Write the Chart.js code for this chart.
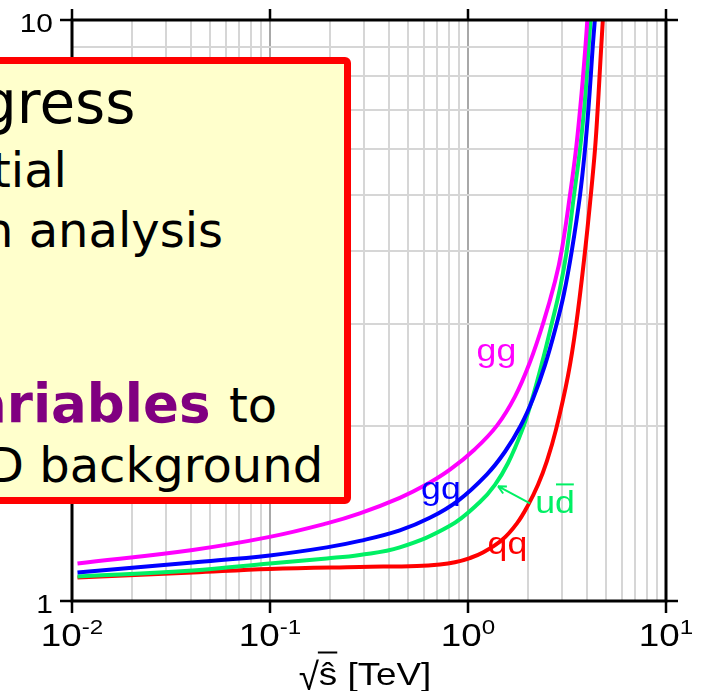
<!DOCTYPE html>
<html>
<head>
<meta charset="utf-8">
<script src="https://cdn.jsdelivr.net/npm/chart.js@4.4.0/dist/chart.umd.min.js"></script>
<style>
  html, body { margin: 0; padding: 0; background: #fff; overflow: hidden; }
  #wrap { position: relative; width: 701px; height: 691px; }
  #myChart { display: block; }
  #box {
    position: absolute; left: -20px; top: 57px; width: 371px; height: 447px;
    box-sizing: border-box; border: 7px solid #ff0000; border-radius: 6px; background: #ffffcc;
  }
  .line { position: absolute; font-family: 'DejaVu Sans'; line-height: 1; white-space: nowrap; color: #000; }
  .hl { font-weight: bold; color: #800080; }
</style>
</head>
<body>
<div id="wrap">
  <canvas id="myChart" width="701" height="691"></canvas>
  <div id="box"></div>
  <div class="line" style="left:-20px; top:74px; font-size:58px;">gress</div>
  <div class="line" style="left:-8px; top:146px; font-size:48px;">tial</div>
  <div class="line" style="left:-17px; top:206px; font-size:48px;">n analysis</div>
  <div class="line hl" style="left:-29px; top:377px; font-size:53px;">ariables</div>
  <div class="line" style="left:229px; top:381px; font-size:48px;">to</div>
  <div class="line" style="left:-13px; top:441px; font-size:48px;">D background</div>
</div>
<script>
// curve values: sqrt(s-hat) in TeV, and the ratio on the y axis
const ggX = [0.01066, 0.04066, 0.09965, 0.1935, 0.2841, 0.4525, 0.6196, 0.8100, 1.0836, 1.3998, 1.7264, 2.0557, 2.3914, 2.7502, 2.9738, 3.2750, 3.5124, 3.6797, 3.8104, 3.9183, 4.0060];
const ggY = [1.1605, 1.2244, 1.2894, 1.3603, 1.4153, 1.5053, 1.5880, 1.6824, 1.8251, 2.0037, 2.2480, 2.5774, 3.0, 3.5481, 4.0132, 5, 6, 7, 8, 9, 10];

const gqX = [0.01066, 0.04066, 0.09965, 0.1935, 0.2841, 0.4525, 0.6416, 0.8891, 1.2463, 1.5366, 1.8513, 2.1289, 2.4477, 2.8051, 3.0536, 3.3404, 3.6797, 3.8994, 4.0525, 4.1673, 4.2654, 4.3710];
const gqY = [1.1199, 1.1652, 1.1981, 1.2367, 1.2689, 1.3231, 1.3904, 1.4874, 1.6522, 1.8066, 2.0069, 2.2286, 2.5458, 3, 3.3823, 4, 5, 6, 7, 8, 9, 10];

const udX = [0.01066, 0.04066, 0.09965, 0.1935, 0.2841, 0.4525, 0.8100, 1.1486, 1.3677, 1.5909, 1.8730, 2.1043, 2.3637, 2.6470, 2.9145, 3.1509, 3.4315, 3.6797, 3.8541, 3.9773, 4.0662, 4.1615];
const udY = [1.1020, 1.1288, 1.1605, 1.1838, 1.2004, 1.2367, 1.3469, 1.4803, 1.5849, 1.7262, 1.9642, 2.2215, 2.5672, 3, 3.4514, 4, 5, 6, 7, 8, 9, 10];

const qqX = [0.01066, 0.04066, 0.09965, 0.2841, 0.5517, 0.7211, 0.8586, 1.0224, 1.1893, 1.4834, 1.7670, 2.0084, 2.2566, 2.5054, 2.7824, 3.1999, 3.5124, 3.8994, 4.1720, 4.3812, 4.5157, 4.6168, 4.7090, 4.7975];
const qqY = [1.0977, 1.1199, 1.1355, 1.1445, 1.1491, 1.1560, 1.1661, 1.1857, 1.2118, 1.2731, 1.3603, 1.4610, 1.5849, 1.7433, 1.9722, 2.4432, 2.9800, 4, 5, 6, 7, 8, 9, 10];

// axis ticks
const xTickValues = [0.01, 0.1, 1, 10];
const xTickExponents = ['-2', '-1', '0', '1'];
const yTickValues = [1, 10];
const yTickLabels = ['1', '10'];
const xTitle = ['\u221A', '\u015D [TeV]'];

// curve names and colours
const curveNames = ['gg', 'gq', 'ud', 'qq'];
const curveColors = ['#ff00ff', '#0000ff', '#00f064', '#ff0000'];

// where the curve names sit (data coordinates: centre x, baseline y)
const labelAnchors = [
  { x: 1.392, y: 2.588 },
  { x: 0.7295, y: 1.496 },
  { x: 2.75, y: 1.415 },
  { x: 1.582, y: 1.203 }
];
const arrowTail = { x: 2.056, y: 1.472 };
const arrowTip = { x: 1.416, y: 1.576 };

const SX = 1.15; // the original plot text is a bit wide
const FONT = '"Liberation Sans", Arial, sans-serif';

function toPoints(xs, ys) {
  return xs.map((x, i) => ({ x: x, y: ys[i] }));
}

function isDecade(v) {
  const l = Math.log10(v);
  return Math.abs(l - Math.round(l)) < 1e-6;
}

// grid ticks at 1..9 of every decade
function logGridTicks(min, max) {
  const ticks = [];
  for (let e = Math.round(Math.log10(min)); e < Math.round(Math.log10(max)); e++) {
    for (let m = 1; m < 10; m++) ticks.push({ value: m * Math.pow(10, e) });
  }
  ticks.push({ value: max });
  return ticks;
}

function wideText(ctx, text, x, y, sy) {
  ctx.save();
  ctx.translate(x, y);
  ctx.scale(SX, sy || 1);
  ctx.fillText(text, 0, 0);
  ctx.restore();
}

function wideWidth(ctx, text) {
  return ctx.measureText(text).width * SX;
}

const framePlugin = {
  id: 'frame',
  afterDatasetsDraw(chart) {
    const ctx = chart.ctx;
    const a = chart.chartArea;
    const x = chart.scales.x;
    const y = chart.scales.y;
    ctx.save();
    ctx.textAlign = 'left';
    ctx.textBaseline = 'alphabetic';

    // curve names
    ctx.font = '31px ' + FONT;
    curveNames.forEach((name, i) => {
      const px = x.getPixelForValue(labelAnchors[i].x);
      const py = y.getPixelForValue(labelAnchors[i].y);
      const w = wideWidth(ctx, name);
      ctx.fillStyle = curveColors[i];
      wideText(ctx, name, px - w / 2, py);
      if (name === 'ud') {
        // bar over the d
        const dw = wideWidth(ctx, 'd');
        ctx.strokeStyle = curveColors[i];
        ctx.lineWidth = 2;
        ctx.beginPath();
        ctx.moveTo(px + w / 2 - dw + 1, py - 29);
        ctx.lineTo(px + w / 2 - 1, py - 29);
        ctx.stroke();
      }
    });

    // arrow from the ud label to its curve
    const tx = x.getPixelForValue(arrowTail.x), ty = y.getPixelForValue(arrowTail.y);
    const hx = x.getPixelForValue(arrowTip.x), hy = y.getPixelForValue(arrowTip.y);
    const ang = Math.atan2(hy - ty, hx - tx);
    ctx.strokeStyle = curveColors[2];
    ctx.lineWidth = 2;
    ctx.beginPath();
    ctx.moveTo(tx, ty);
    ctx.lineTo(hx, hy);
    ctx.moveTo(hx, hy);
    ctx.lineTo(hx - 9 * Math.cos(ang - 0.45), hy - 9 * Math.sin(ang - 0.45));
    ctx.moveTo(hx, hy);
    ctx.lineTo(hx - 9 * Math.cos(ang + 0.45), hy - 9 * Math.sin(ang + 0.45));
    ctx.stroke();

    // frame
    ctx.strokeStyle = '#000';
    ctx.lineWidth = 3;
    ctx.strokeRect(a.left, a.top, a.right - a.left, a.bottom - a.top);

    // major ticks, outward on all four sides
    ctx.lineWidth = 2.5;
    ctx.beginPath();
    xTickValues.forEach(v => {
      const px = x.getPixelForValue(v);
      ctx.moveTo(px, a.bottom); ctx.lineTo(px, a.bottom + 12);
      ctx.moveTo(px, a.top); ctx.lineTo(px, a.top - 11);
    });
    yTickValues.forEach(v => {
      const py = y.getPixelForValue(v);
      ctx.moveTo(a.left, py); ctx.lineTo(a.left - 12, py);
      ctx.moveTo(a.right, py); ctx.lineTo(a.right + 12, py);
    });
    ctx.stroke();

    ctx.fillStyle = '#000';
    // y tick labels
    ctx.font = '26px ' + FONT;
    yTickValues.forEach((v, i) => {
      const py = y.getPixelForValue(v);
      const w = wideWidth(ctx, yTickLabels[i]);
      wideText(ctx, yTickLabels[i], a.left - 19 - w, py + 12);
    });

    // x tick labels: 10 with a raised exponent
    xTickValues.forEach((v, i) => {
      const px = x.getPixelForValue(v);
      ctx.font = '32px ' + FONT;
      const wb = wideWidth(ctx, '10');
      ctx.font = '21px ' + FONT;
      const we = wideWidth(ctx, xTickExponents[i]);
      const left = px - (wb + we) / 2;
      ctx.font = '32px ' + FONT;
      wideText(ctx, '10', left, a.bottom + 44.5);
      ctx.font = '21px ' + FONT;
      wideText(ctx, xTickExponents[i], left + wb, a.bottom + 32.5);
    });

    // x axis title, radical drawn a little taller
    ctx.font = '32px ' + FONT;
    const w1 = wideWidth(ctx, xTitle[0]);
    const w2 = wideWidth(ctx, xTitle[1]);
    const tl = (a.left + a.right) / 2 - 4 - (w1 + w2) / 2;
    const base = a.bottom + 83.5;
    wideText(ctx, xTitle[0], tl, base + 5, 1.2);
    wideText(ctx, xTitle[1], tl + w1, base);
    const sw = wideWidth(ctx, '\u015D');
    ctx.lineWidth = 2;
    ctx.beginPath();
    ctx.moveTo(tl + w1 - 1, base - 32);
    ctx.lineTo(tl + w1 + sw, base - 32);
    ctx.stroke();

    ctx.restore();
  }
};

const gridColor = c => (c.tick && isDecade(c.tick.value)) ? '#a8a8a8' : '#d6d6d6';

const ctx = document.getElementById('myChart').getContext('2d');
new Chart(ctx, {
  type: 'line',
  data: {
    datasets: [
      { label: curveNames[0], data: toPoints(ggX, ggY), borderColor: curveColors[0] },
      { label: curveNames[1], data: toPoints(gqX, gqY), borderColor: curveColors[1] },
      { label: curveNames[2], data: toPoints(udX, udY), borderColor: curveColors[2] },
      { label: curveNames[3], data: toPoints(qqX, qqY), borderColor: curveColors[3] }
    ]
  },
  options: {
    responsive: false,
    animation: false,
    devicePixelRatio: 1,
    layout: { padding: { left: 72, right: 35, top: 20, bottom: 90 } },
    elements: {
      point: { radius: 0 },
      line: { borderWidth: 4, tension: 0.4, fill: false }
    },
    plugins: { legend: { display: false }, tooltip: { enabled: false } },
    scales: {
      x: {
        type: 'logarithmic', min: 0.01, max: 10,
        ticks: { display: false, autoSkip: false },
        grid: { color: gridColor, lineWidth: 2, drawTicks: false },
        border: { display: false },
        afterBuildTicks: s => { s.ticks = logGridTicks(0.01, 10); },
        afterFit: s => { s.height = 0; }
      },
      y: {
        type: 'logarithmic', min: 1, max: 10,
        ticks: { display: false, autoSkip: false },
        grid: { color: gridColor, lineWidth: 2, drawTicks: false },
        border: { display: false },
        afterBuildTicks: s => { s.ticks = logGridTicks(1, 10); },
        afterFit: s => { s.width = 0; }
      }
    }
  },
  plugins: [framePlugin]
});
</script>
</body>
</html>
